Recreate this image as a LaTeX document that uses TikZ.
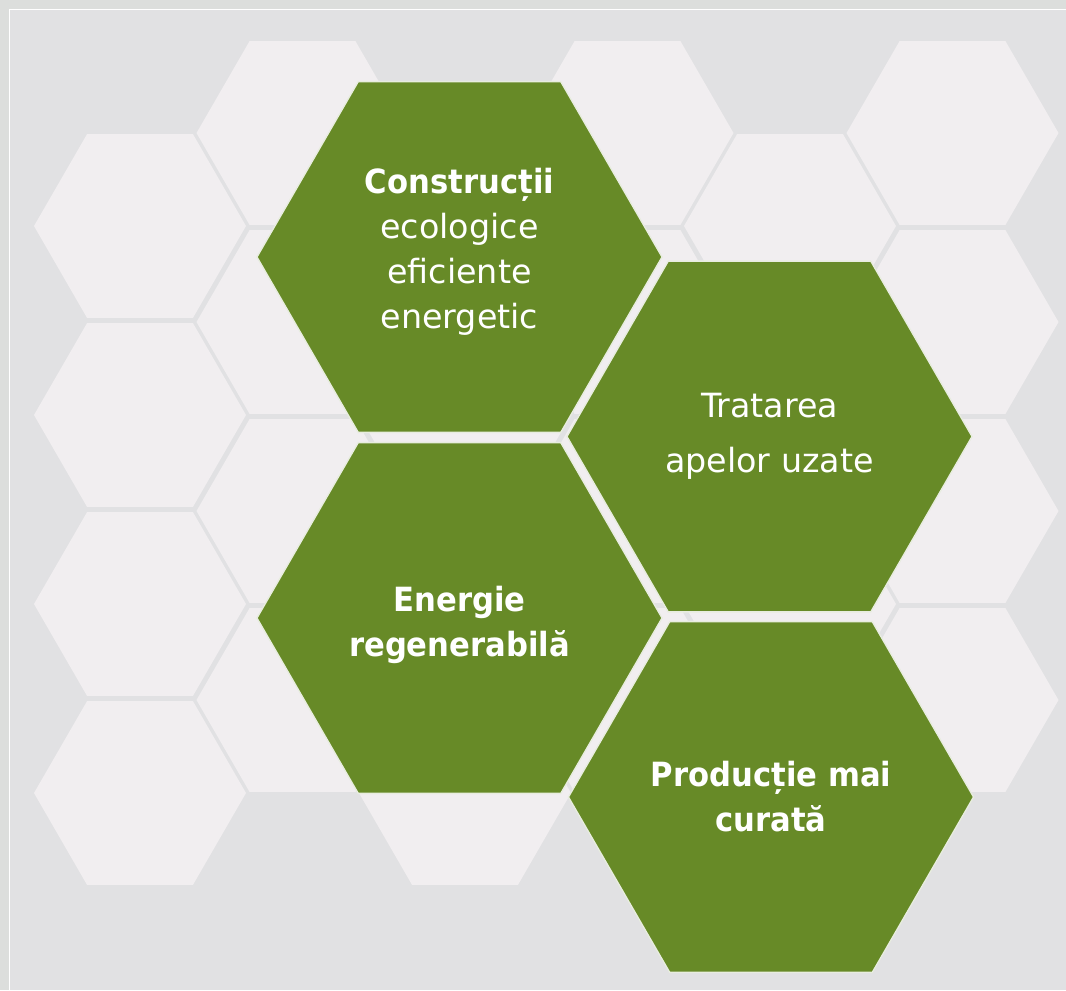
\documentclass[tikz,border=0pt]{standalone}
\usepackage{fontspec}
\setmainfont{DejaVu Sans}
\newfontfamily\hexboldfont{DejaVu Sans}[FakeStretch=0.92]
\usetikzlibrary{shapes.geometric}
\definecolor{hxframe}{HTML}{DCDEDC}
\definecolor{hxpanel}{HTML}{E1E1E3}
\definecolor{hxlight}{HTML}{F1EEF0}
\definecolor{hxgreen}{HTML}{678A27}

\begin{document}
\begin{tikzpicture}[x=0.75pt, y=-0.75pt,
    bghex/.style={regular polygon, regular polygon sides=6, fill=hxlight, minimum size=159pt, inner sep=0pt},
    greenhex/.style={regular polygon, regular polygon sides=6, fill=hxgreen, draw=white!85!hxgreen, line width=1pt, minimum size=303.75pt, inner sep=0pt, text=white, align=center, font=\fontsize{25pt}{33.75pt}\selectfont}]
  \useasboundingbox (0,0) rectangle (1066,990);
  % frame and panel
  \fill[hxframe] (0,0) rectangle (1066,990);
  \fill[hxpanel] (10,10) rectangle (1066,990);
  \draw[white, line width=1pt] (9.5,990) -- (9.5,9.5) -- (1066,9.5);
  % honeycomb behind
  \foreach \col/\cx in {0/140, 1/302.5, 2/465, 3/627.5, 4/790, 5/952.5} {
    \foreach \row in {0,...,3} {
      \pgfmathsetmacro\cy{133 + 93*(1-mod(\col,2)) + 189*\row}
      \node[bghex] (bg-\col-\row) at (\cx,\cy) {};
    }
  }
  % the four topics
  \node[greenhex] (constr) at (459.5,257) {{\hexboldfont\bfseries Construcții}\\ecologice\\eficiente\\energetic\rule[-13pt]{0pt}{13pt}};
  \node[greenhex, font=\fontsize{25pt}{41.25pt}\selectfont] (apa) at (769.5,436.5) {Tratarea\\apelor uzate};
  \node[greenhex, font=\fontsize{25pt}{33.75pt}\selectfont\hexboldfont\bfseries] (energie) at (459.5,618) {\rule{0pt}{30pt}Energie\\regenerabilă};
  \node[greenhex, font=\fontsize{25pt}{33.75pt}\selectfont\hexboldfont\bfseries] (productie) at (771,797) {Producție mai\\curată};
\end{tikzpicture}
\end{document}
